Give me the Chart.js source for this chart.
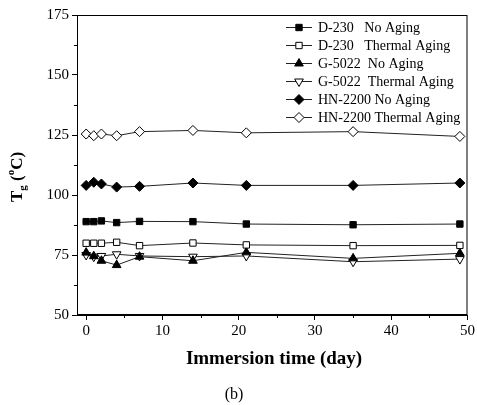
<!DOCTYPE html>
<html>
<head>
<meta charset="utf-8">
<title>Tg vs immersion time</title>
<script src="https://cdn.jsdelivr.net/npm/chart.js@4.4.0/dist/chart.umd.min.js"></script>
<style>
  html, body { margin: 0; padding: 0; background: #fff; }
  #wrap { width: 477px; height: 405px; position: relative; }
</style>
</head>
<body>
<div id="wrap"><canvas id="tgChart" width="477" height="405"></canvas></div>
<script>
// Datos
const days = [0, 1, 2, 4, 7, 14, 21, 35, 49];
const d230NoAging = [88.9, 88.9, 89.2, 88.5, 89.0, 88.9, 87.9, 87.6, 87.9];
const d230Thermal = [79.9, 79.9, 79.9, 80.3, 78.9, 80.0, 79.2, 78.9, 79.0];
const g5022NoAging = [76.0, 74.5, 72.6, 70.8, 74.3, 72.6, 76.1, 73.6, 75.7];
const g5022Thermal = [75.0, 74.3, 74.6, 75.3, 74.6, 74.3, 74.6, 72.2, 73.3];
const hn2200NoAging = [104.0, 105.3, 104.6, 103.3, 103.6, 105.0, 104.0, 104.0, 105.0];
const hn2200Thermal = [125.4, 124.7, 125.4, 124.7, 126.4, 126.9, 125.9, 126.4, 124.4];

const seriesLabels = [
  'D-230   No Aging',
  'D-230   Thermal Aging',
  'G-5022  No Aging',
  'G-5022  Thermal Aging',
  'HN-2200 No Aging',
  'HN-2200 Thermal Aging'
];

const xTicks = [0, 10, 20, 30, 40, 50];
const xMinorTicks = [5, 15, 25, 35, 45];
const yTicks = [50, 75, 100, 125, 150, 175];
const yMinorTicks = [62.5, 87.5, 112.5, 137.5, 162.5];

const serif = "'Liberation Serif', 'Times New Roman', serif";

const toPoints = (values) => days.map((d, i) => ({ x: d, y: values[i] }));

// estilo de cada serie: marcador y relleno
const makeSeries = (label, values, pointStyle, filled, radius, rotation) => ({
  label,
  data: toPoints(values),
  borderColor: '#222',
  borderWidth: 1,
  pointStyle,
  pointRotation: rotation || 0,
  pointRadius: radius,
  pointHoverRadius: radius,
  pointBackgroundColor: filled ? '#000' : '#fff',
  pointBorderColor: '#000',
  pointBorderWidth: 1,
  fill: false,
  tension: 0
});

const datasets = [
  makeSeries(seriesLabels[0], d230NoAging, 'rect', true, 4.5),
  makeSeries(seriesLabels[1], d230Thermal, 'rect', false, 4.5),
  makeSeries(seriesLabels[2], g5022NoAging, 'triangle', true, 5),
  makeSeries(seriesLabels[3], g5022Thermal, 'triangle', false, 5, 180),
  makeSeries(seriesLabels[4], hn2200NoAging, 'rectRot', true, 5),
  makeSeries(seriesLabels[5], hn2200Thermal, 'rectRot', false, 5)
];

// Marco, ticks menores, leyenda y titulos de ejes
const decorations = {
  id: 'decorations',
  afterDraw(chart) {
    const { ctx, chartArea, scales } = chart;
    ctx.save();

    // marco completo del area de datos
    ctx.strokeStyle = '#000';
    ctx.lineWidth = 1;
    ctx.strokeRect(chartArea.left + 0.5, chartArea.top + 0.5,
      chartArea.right - chartArea.left - 1, chartArea.bottom - chartArea.top - 1);

    // ticks menores
    ctx.beginPath();
    xMinorTicks.forEach(v => {
      const px = Math.round(scales.x.getPixelForValue(v)) + 0.5;
      ctx.moveTo(px, chartArea.bottom);
      ctx.lineTo(px, chartArea.bottom + 3);
    });
    yMinorTicks.forEach(v => {
      const py = Math.round(scales.y.getPixelForValue(v)) + 0.5;
      ctx.moveTo(chartArea.left, py);
      ctx.lineTo(chartArea.left - 3, py);
    });
    ctx.stroke();

    // leyenda
    const rowY = [27, 45, 63, 81, 99, 117];
    chart.data.datasets.forEach((ds, i) => {
      const y = rowY[i];
      ctx.beginPath();
      ctx.strokeStyle = '#222';
      ctx.lineWidth = 1;
      ctx.moveTo(286, y + 0.5);
      ctx.lineTo(312, y + 0.5);
      ctx.stroke();
      ctx.fillStyle = ds.pointBackgroundColor;
      ctx.strokeStyle = '#000';
      Chart.helpers.drawPoint(ctx, {
        pointStyle: ds.pointStyle,
        rotation: ds.pointRotation,
        radius: ds.pointRadius,
        borderWidth: 1
      }, 299, y + 0.5);
      ctx.fillStyle = '#000';
      ctx.font = '14px ' + serif;
      ctx.textAlign = 'left';
      ctx.textBaseline = 'middle';
      ctx.fillText(ds.label, 318, y + 1);
    });

    // titulo eje x y etiqueta (b)
    ctx.fillStyle = '#000';
    ctx.textAlign = 'center';
    ctx.textBaseline = 'middle';
    ctx.font = 'bold 19px ' + serif;
    ctx.fillText('Immersion time (day)', 274, 359);
    ctx.font = '16px ' + serif;
    ctx.fillText('(b)', 234, 395);

    // titulo eje y: T con subindice g y (°C) con o superindice
    ctx.translate(15, 177);
    ctx.rotate(-Math.PI / 2);
    const big = 'bold 17px ' + serif;
    const small = 'bold 11px ' + serif;
    const parts = [
      { t: 'T', f: big, dy: 0 },
      { t: 'g', f: small, dy: 4 },
      { t: ' (', f: big, dy: 0 },
      { t: 'o', f: small, dy: -8 },
      { t: 'C)', f: big, dy: 0 }
    ];
    let total = 0;
    parts.forEach(p => { ctx.font = p.f; p.w = ctx.measureText(p.t).width; total += p.w; });
    let cx = -total / 2;
    ctx.textAlign = 'left';
    ctx.textBaseline = 'alphabetic';
    parts.forEach(p => {
      ctx.font = p.f;
      ctx.fillText(p.t, cx, 7 + p.dy);
      cx += p.w;
    });

    ctx.restore();
  }
};

new Chart(document.getElementById('tgChart'), {
  type: 'line',
  data: { datasets },
  options: {
    responsive: false,
    animation: false,
    events: [],
    layout: { padding: { left: 0, right: 8, top: 15, bottom: 0 } },
    plugins: {
      legend: { display: false },
      tooltip: { enabled: false }
    },
    scales: {
      x: {
        type: 'linear',
        min: -1.2,
        max: 50,
        afterBuildTicks: (scale) => { scale.ticks = xTicks.map(v => ({ value: v })); },
        afterFit: (scale) => { scale.height = 90; },
        grid: { display: true, drawOnChartArea: false, tickLength: 5, color: '#000' },
        border: { display: true, color: '#000', width: 1 },
        ticks: {
          color: '#000',
          padding: 2,
          maxRotation: 0,
          font: { family: serif, size: 15 }
        }
      },
      y: {
        type: 'linear',
        min: 50,
        max: 175,
        afterBuildTicks: (scale) => { scale.ticks = yTicks.map(v => ({ value: v })); },
        afterFit: (scale) => { scale.width = 77; },
        grid: { display: true, drawOnChartArea: false, tickLength: 5, color: '#000' },
        border: { display: true, color: '#000', width: 1 },
        ticks: {
          color: '#000',
          padding: 3,
          font: { family: serif, size: 15 }
        }
      }
    }
  },
  plugins: [decorations]
});
</script>
</body>
</html>
